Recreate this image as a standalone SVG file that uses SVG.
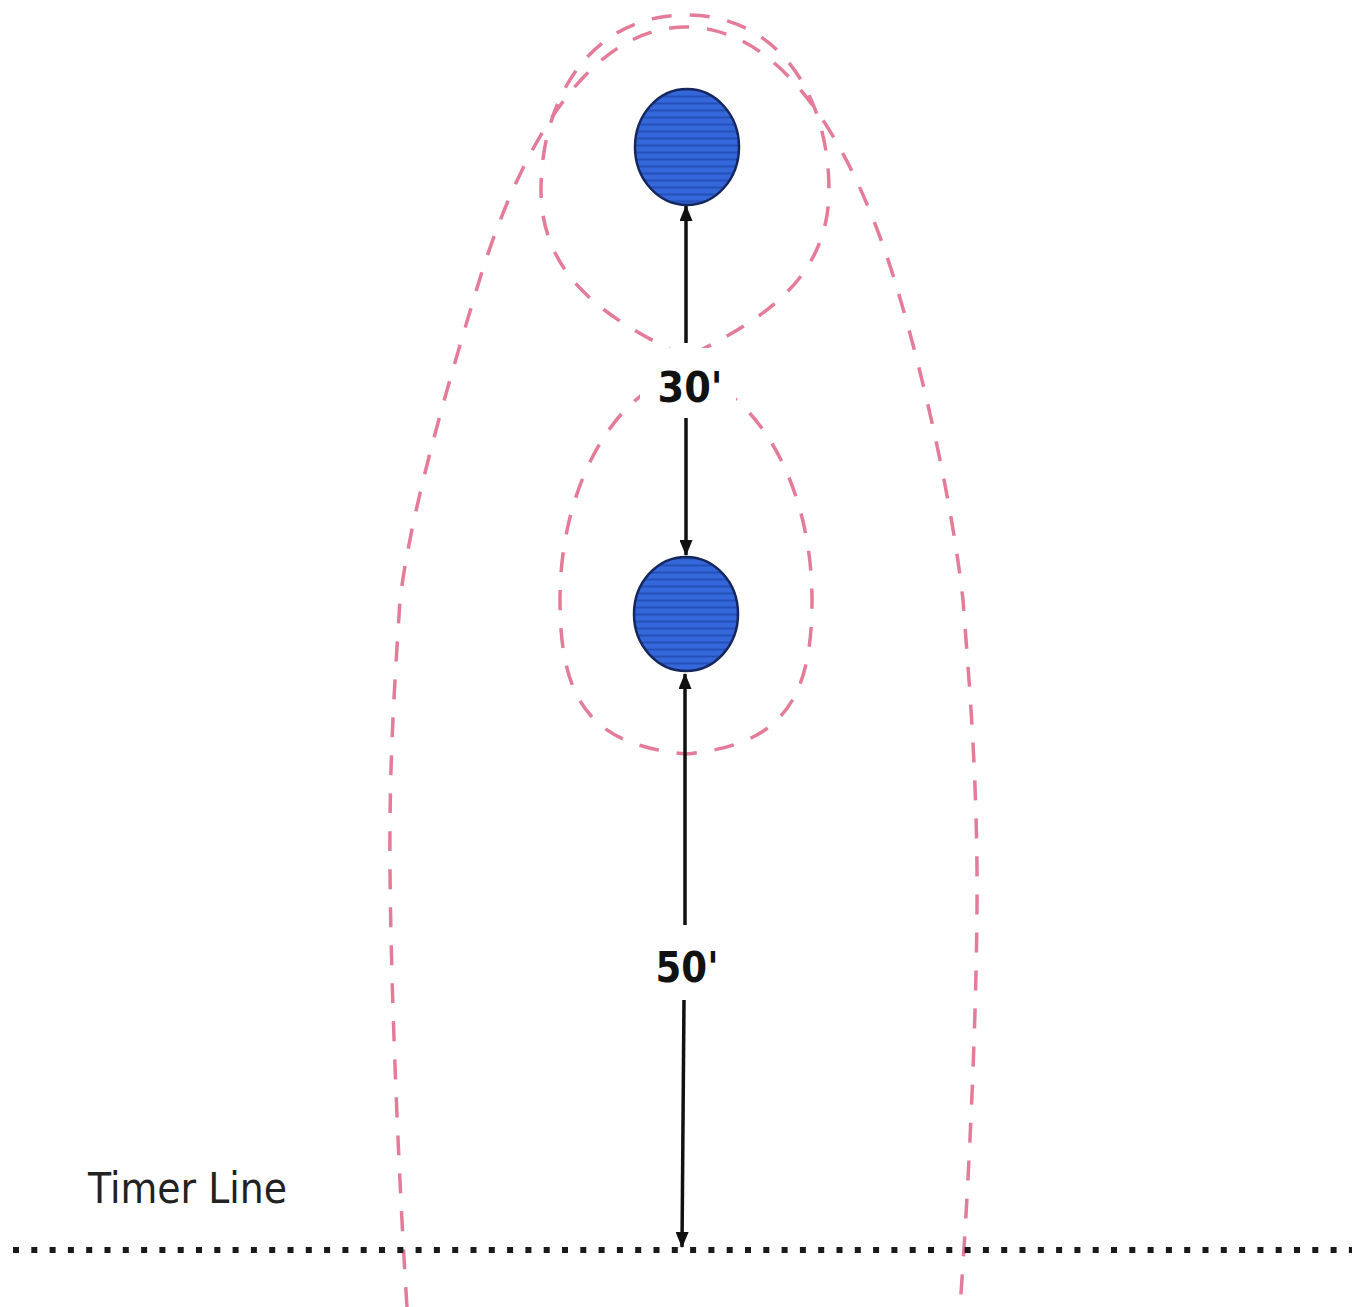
<svg xmlns="http://www.w3.org/2000/svg" width="1364" height="1307" viewBox="0 0 1364 1307">
  <defs>
    <pattern id="stripes" patternUnits="userSpaceOnUse" width="10" height="7">
      <rect width="10" height="7" fill="#3468da"/>
      <rect y="4.5" width="10" height="2" fill="#2450b8"/>
    </pattern>
    <marker id="arrow" markerUnits="userSpaceOnUse" markerWidth="16" markerHeight="13" refX="15" refY="6.5" orient="auto">
      <path d="M0,0 L16,6.5 L0,13 z" fill="#111"/>
    </marker>
    <style>
      .zone { fill: none; stroke: #e47b98; stroke-width: 3.5; stroke-dasharray: 20 18; }
      .ball { fill: url(#stripes); stroke: #16265e; stroke-width: 2.5; }
      .dim { stroke: #111; stroke-width: 3.5; fill: none; marker-end: url(#arrow); }
      .dimlabel { font-family: "DejaVu Sans", Verdana, sans-serif; font-weight: bold; font-size: 43px; fill: #111; text-anchor: middle; }
      .plain { font-family: "DejaVu Sans", Verdana, sans-serif; font-size: 42px; fill: #222; }
    </style>
  </defs>
  <rect width="1364" height="1307" fill="#fff"/>

  <g id="zones">
    <path id="zone-outer" class="zone" d="M407,1307 C400,1200 391,1000 390,870 C389,760 395,680 400,600 C411,510 447,388 477,288 C510,178 576,27 686,27 C796,27 864,178 897,288 C927,388 953,510 963,600 C969,680 976,760 977,870 C978,1000 968,1200 960,1307"/>
    <path id="zone-top" class="zone" d="M686,358 C630,328 541,290 541,190 C541,100 590,15 686,15 C782,15 829,100 829,190 C829,290 742,328 686,358 Z"/>
    <path id="zone-middle" class="zone" d="M686,378 C630,378 560,470 560,600 C560,700 590,745 686,754 C782,745 812,700 812,600 C812,470 742,378 686,378 Z"/>
  </g>

  <g id="timer-line">
    <line x1="13" y1="1250" x2="1352" y2="1250" stroke="#1a1a1a" stroke-width="6" stroke-dasharray="6 12.3"/>
  </g>

  <g id="connectors">
    <line class="dim" x1="686" y1="343" x2="686" y2="206"/>
    <line class="dim" x1="686" y1="418" x2="686" y2="555"/>
    <line class="dim" x1="685" y1="925" x2="685" y2="674"/>
    <line class="dim" x1="684" y1="1000" x2="682" y2="1247"/>
  </g>

  <g id="ball-top">
    <ellipse class="ball" cx="687" cy="147" rx="52" ry="58"/>
  </g>
  <g id="ball-bottom">
    <ellipse class="ball" cx="686" cy="614" rx="52" ry="57"/>
  </g>

  <g id="label-30">
    <rect x="640" y="348" width="96" height="64" fill="#fff"/>
    <text class="dimlabel" x="690" y="402" textLength="65" lengthAdjust="spacingAndGlyphs">30'</text>
  </g>
  <g id="label-50">
    <text class="dimlabel" x="687" y="982" textLength="63" lengthAdjust="spacingAndGlyphs">50'</text>
  </g>
  <g id="label-timer">
    <text class="plain" x="88" y="1203" textLength="199" lengthAdjust="spacingAndGlyphs">Timer Line</text>
  </g>
</svg>
